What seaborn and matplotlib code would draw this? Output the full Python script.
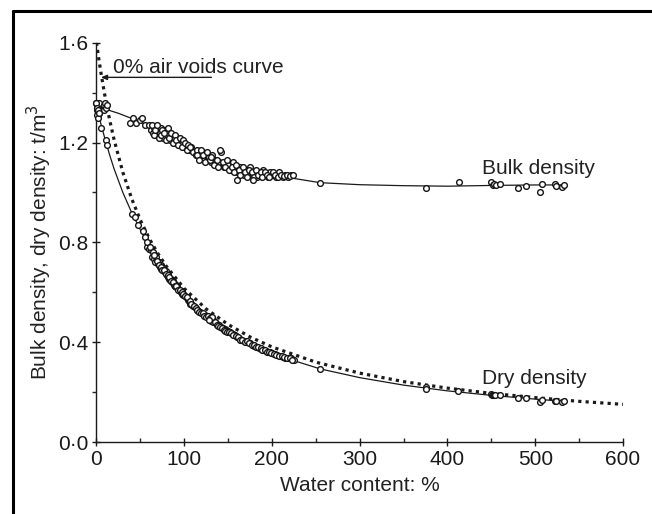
import matplotlib
matplotlib.use('Agg')
import matplotlib.pyplot as plt
import seaborn as sns
from matplotlib.lines import Line2D
from matplotlib.ticker import FuncFormatter, MultipleLocator

# measured bulk density (water content %, t/m3)
bulk_w = [0, 0.5, 1, 1.5, 2, 2.5, 3, 8, 9, 10, 11, 12,
          38, 42, 45, 50, 52, 55, 60, 62, 64, 66, 68, 70, 72, 74, 76, 78, 80, 82,
          84, 86, 88, 90, 92, 94, 96, 98, 100, 102, 105, 108, 110, 113, 115, 118,
          120, 122, 125, 128, 130, 132, 135, 138, 140, 142, 145, 148, 150, 153,
          155, 158, 160, 163, 165, 168, 170, 173, 175, 178, 180, 183, 185, 188,
          190, 193, 195, 198, 200, 205, 208, 212, 215, 218, 222,
          63, 65, 67, 69, 71, 73, 75, 77, 79, 81, 83, 85, 87, 89, 91, 93, 95, 97,
          99, 101, 103, 104, 106, 115, 117, 119, 121, 124, 126, 129, 131, 134, 137,
          139, 141, 144, 147, 149, 151, 154, 157, 159, 162, 164, 167, 169, 172, 174,
          177, 179, 182, 184, 187, 189, 192, 194, 197, 201, 203, 207, 210, 214, 217,
          220, 224, 160, 178,
          255, 375, 413, 450, 452, 453, 455, 460, 480, 490, 505, 508, 522, 524, 531, 533]
bulk_rho = [1.36, 1.33, 1.35, 1.31, 1.34, 1.36, 1.32, 1.35, 1.33, 1.36, 1.34, 1.35,
            1.28, 1.30, 1.28, 1.29, 1.30, 1.27, 1.27, 1.25, 1.24, 1.26, 1.23, 1.25, 1.24, 1.26, 1.22, 1.25, 1.23, 1.24,
            1.21, 1.23, 1.22, 1.20, 1.22, 1.19, 1.21, 1.20, 1.18, 1.19, 1.17, 1.18, 1.16, 1.15, 1.17, 1.14,
            1.16, 1.13, 1.15, 1.14, 1.12, 1.15, 1.13, 1.11, 1.12, 1.16, 1.10, 1.12, 1.11, 1.09,
            1.12, 1.10, 1.08, 1.10, 1.09, 1.07, 1.09, 1.08, 1.10, 1.07, 1.08, 1.06, 1.08, 1.07,
            1.09, 1.07, 1.06, 1.08, 1.07, 1.06, 1.08, 1.06, 1.07, 1.06, 1.07,
            1.27, 1.23, 1.25, 1.27, 1.22, 1.23, 1.25, 1.24, 1.21, 1.26, 1.22, 1.24, 1.20, 1.23, 1.21, 1.19, 1.22, 1.18,
            1.21, 1.20, 1.17, 1.19, 1.18, 1.15, 1.13, 1.17, 1.15, 1.12, 1.16, 1.13, 1.14, 1.11, 1.13,
            1.10, 1.17, 1.12, 1.10, 1.13, 1.09, 1.10, 1.08, 1.11, 1.09, 1.07, 1.10, 1.08, 1.06, 1.09,
            1.08, 1.06, 1.09, 1.07, 1.08, 1.06, 1.08, 1.07, 1.06, 1.08, 1.07, 1.06, 1.07, 1.065, 1.07,
            1.065, 1.07, 1.05, 1.05,
            1.039, 1.016, 1.043, 1.043, 1.03, 1.035, 1.03, 1.035, 1.016, 1.025, 1.003, 1.033, 1.033, 1.026, 1.02, 1.03]

# measured dry density
dry_w = [0, 0.5, 1, 1.5, 2, 3, 5.7, 11, 12,
         40, 44, 47, 53, 55, 57, 58, 60, 62, 63, 65, 66, 67, 68, 70, 71, 72, 73, 74,
         75, 76, 77, 78, 79, 80, 81, 82, 83, 84, 85, 86, 87, 88, 89, 90, 91, 92, 93,
         94, 95, 96, 97, 98, 99, 100, 102, 104, 105, 107, 109, 110, 112, 114, 116,
         118, 120, 122, 124, 126, 128, 130, 132, 134, 136, 138, 140, 142, 144, 146,
         148, 150, 152, 155, 158, 160, 162, 165, 168, 170, 172, 175, 178, 180, 183,
         185, 188, 190, 193, 195, 198, 200, 203, 206, 209, 212, 215, 218, 222, 225,
         61, 64, 66, 69, 71, 73, 75, 77, 79, 81, 83, 85, 87, 89, 91, 93, 95, 97, 99,
         101, 103, 106, 108, 111, 113, 115, 117, 119, 121, 123, 125, 127, 129, 131,
         133, 135, 137, 139, 141, 143, 145, 147, 149, 151, 153, 156, 159, 161, 164,
         166, 169, 171, 174, 177, 179, 182, 184, 187, 189, 192, 194, 197, 199, 202,
         205, 208, 211, 214, 217, 220, 223, 132, 128,
         255, 375, 376, 412, 450, 451, 452, 453, 454, 460, 480, 489, 505, 508, 522, 524, 531, 533]
dry_rho = [1.36, 1.31, 1.34, 1.30, 1.33, 1.32, 1.26, 1.21, 1.19,
           0.915, 0.90, 0.87, 0.845, 0.82, 0.78, 0.80, 0.775, 0.77, 0.74, 0.755, 0.735, 0.72, 0.74, 0.715, 0.72, 0.70, 0.71, 0.695,
           0.70, 0.69, 0.685, 0.68, 0.685, 0.67, 0.665, 0.66, 0.655, 0.65, 0.655, 0.64, 0.645, 0.63, 0.635, 0.625, 0.62, 0.625, 0.615,
           0.61, 0.605, 0.60, 0.605, 0.595, 0.59, 0.59, 0.58, 0.57, 0.565, 0.555, 0.55, 0.545, 0.54, 0.53, 0.525,
           0.52, 0.515, 0.51, 0.51, 0.505, 0.50, 0.49, 0.49, 0.485, 0.475, 0.47, 0.468, 0.46, 0.455, 0.452,
           0.45, 0.445, 0.44, 0.432, 0.428, 0.42, 0.418, 0.41, 0.405, 0.40, 0.402, 0.395, 0.39, 0.385, 0.382,
           0.378, 0.372, 0.37, 0.365, 0.362, 0.36, 0.358, 0.352, 0.348, 0.345, 0.342, 0.338, 0.335, 0.338, 0.33,
           0.78, 0.76, 0.75, 0.725, 0.71, 0.70, 0.69, 0.69, 0.675, 0.67, 0.66, 0.645, 0.64, 0.625, 0.625, 0.61, 0.61, 0.60, 0.595,
           0.585, 0.58, 0.565, 0.555, 0.545, 0.535, 0.53, 0.52, 0.515, 0.515, 0.505, 0.50, 0.505, 0.495, 0.485,
           0.48, 0.48, 0.47, 0.465, 0.462, 0.455, 0.45, 0.445, 0.44, 0.44, 0.435, 0.43, 0.425, 0.42, 0.41,
           0.41, 0.40, 0.405, 0.395, 0.39, 0.388, 0.38, 0.38, 0.375, 0.37, 0.368, 0.362, 0.36, 0.355, 0.352,
           0.35, 0.345, 0.345, 0.34, 0.335, 0.335, 0.33, 0.50, 0.49,
           0.292, 0.221, 0.213, 0.204, 0.191, 0.189, 0.188, 0.19, 0.187, 0.187, 0.176, 0.175, 0.161, 0.17, 0.166, 0.165, 0.162, 0.164]

# fitted curves
bulk_fit_w = [0, 25, 50, 75, 100, 125, 150, 175, 200, 225, 255, 300, 350, 400, 450, 500, 533]
bulk_fit_rho = [1.345, 1.317, 1.283, 1.235, 1.185, 1.143, 1.11, 1.088, 1.072, 1.056, 1.039, 1.031, 1.027, 1.025, 1.028, 1.03, 1.03]

dry_fit_w = [0, 5, 10, 15, 20, 30, 40, 50, 60, 75, 90, 100, 125, 150, 175, 200, 225, 255,
             300, 350, 400, 450, 500, 533]
dry_fit_rho = [1.345, 1.275, 1.21, 1.15, 1.095, 1.0, 0.92, 0.85, 0.785, 0.703, 0.635, 0.595,
               0.511, 0.446, 0.397, 0.358, 0.326, 0.293, 0.258, 0.228, 0.205, 0.187, 0.172, 0.163]

# 0% air voids curve
voids_w = [0, 2.5, 5, 7.5, 10, 15, 20, 30, 40, 50, 60, 70, 80, 100, 125, 150, 175, 200,
           250, 300, 350, 400, 450, 500, 550, 600]
voids_rho = [1.6, 1.538, 1.481, 1.429, 1.379, 1.29, 1.212, 1.081, 0.976, 0.889, 0.816, 0.755,
             0.702, 0.615, 0.533, 0.471, 0.421, 0.381, 0.32, 0.276, 0.242, 0.216, 0.195, 0.178, 0.163, 0.151]

sns.set_style('ticks')
plt.rcParams['font.family'] = ['Liberation Sans', 'DejaVu Sans']

fig = plt.figure(figsize=(6.52, 5.14), dpi=100)
ax = fig.add_axes([0.148, 0.140, 0.8075, 0.777])

sns.lineplot(x=voids_w, y=voids_rho, ax=ax, color='#1a1a1a', lw=2.3,
             linestyle=(0, (1, 1.3)), sort=False, estimator=None)
sns.lineplot(x=bulk_fit_w, y=bulk_fit_rho, ax=ax, color='#1a1a1a', lw=0.9,
             sort=False, estimator=None)
sns.lineplot(x=dry_fit_w, y=dry_fit_rho, ax=ax, color='#1a1a1a', lw=0.9,
             sort=False, estimator=None)

pts = dict(facecolor='white', edgecolor='#151515', s=17, linewidth=1.0, clip_on=False, zorder=3)
sns.scatterplot(x=bulk_w, y=bulk_rho, ax=ax, **pts)
sns.scatterplot(x=dry_w, y=dry_rho, ax=ax, **pts)

ax.annotate('', xy=(5, 1.461), xytext=(131, 1.461),
            arrowprops=dict(arrowstyle='-|>,head_length=0.35,head_width=0.15',
                            color='#1a1a1a', lw=1.0, shrinkA=0, shrinkB=0))
ax.text(18.6, 1.477, '0% air voids curve', fontsize=15, color='#222222', va='baseline')
ax.text(439, 1.074, 'Bulk density', fontsize=15, color='#222222', va='baseline')
ax.text(439, 0.231, 'Dry density', fontsize=15, color='#222222', va='baseline')

ax.set_xlim(0, 600)
ax.set_ylim(0, 1.6)
ax.xaxis.set_major_locator(MultipleLocator(100))
ax.xaxis.set_minor_locator(MultipleLocator(50))
ax.yaxis.set_major_locator(MultipleLocator(0.4))
ax.yaxis.set_minor_locator(MultipleLocator(0.2))
ax.yaxis.set_major_formatter(FuncFormatter(lambda v, p: f'{v:.1f}'.replace('.', '\u00b7')))

ax.tick_params(which='major', direction='inout', length=6, width=1.0, labelsize=15,
               colors='#1a1a1a', pad=3)
ax.tick_params(axis='x', which='minor', direction='in', length=3, width=1.0)
ax.tick_params(axis='y', which='minor', direction='out', length=3, width=1.0)
for side in ['left', 'bottom']:
    ax.spines[side].set_linewidth(1.0)
    ax.spines[side].set_color('#1a1a1a')
sns.despine(ax=ax)

ax.set_xlabel('Water content: %', fontsize=15, color='#222222', labelpad=5)
ax.set_ylabel('Bulk density, dry density: t/m$^3$', fontsize=15, color='#222222', labelpad=3)

# outer frame (left and top edges visible in the crop)
fig.add_artist(Line2D([12.5 / 652, 12.5 / 652], [0, 1 - 10.5 / 514], color='black', lw=2.2))
fig.add_artist(Line2D([12.5 / 652, 1], [1 - 10.5 / 514, 1 - 10.5 / 514], color='black', lw=2.2))

plt.savefig('out.png', dpi=100)
